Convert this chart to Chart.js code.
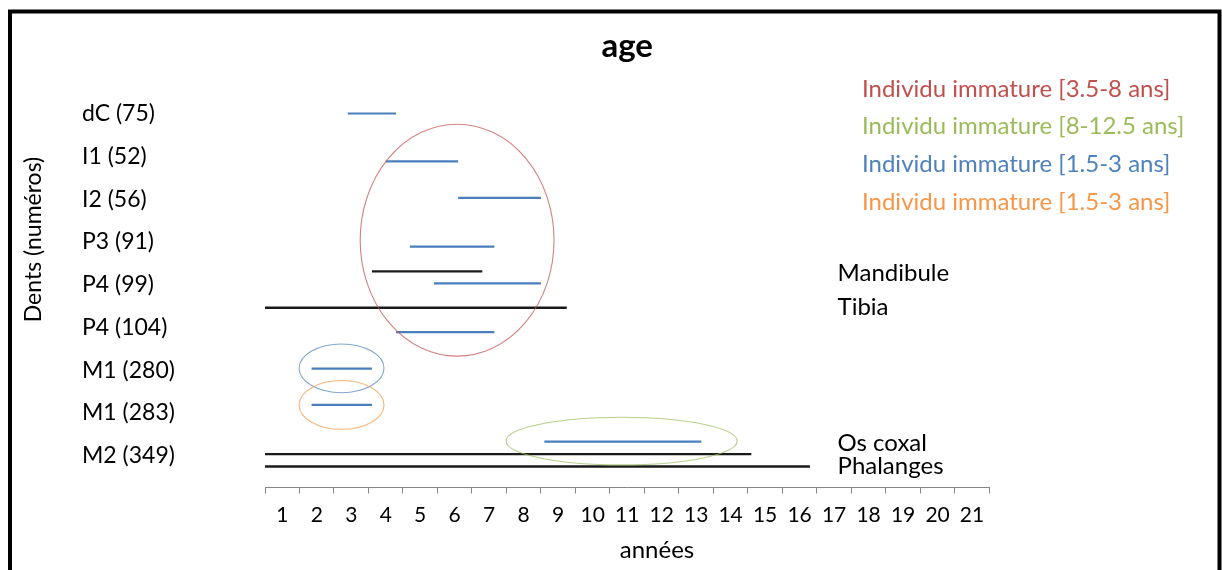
<!DOCTYPE html>
<html>
<head>
<meta charset="utf-8">
<script src="https://cdn.jsdelivr.net/npm/chart.js@4"></script>
<style>
  html, body { margin: 0; padding: 0; background: #ffffff; }
  #wrap { width: 1222px; height: 570px; }
</style>
</head>
<body>
<div id="wrap"><canvas id="c" width="1222" height="570"></canvas></div>
<script>
// ---------------- data ----------------
const categories = ['dC (75)', 'I1 (52)', 'I2 (56)', 'P3 (91)', 'P4 (99)', 'P4 (104)', 'M1 (280)', 'M1 (283)', 'M2 (349)'];
const xTickLabels = ['1','2','3','4','5','6','7','8','9','10','11','12','13','14','15','16','17','18','19','20','21'];

// tooth age ranges (years) and row on the vertical axis (category index)
const toothStart = [2.4, 3.5, 5.6, 4.2, 4.9, 3.8, 1.35, 1.35, 8.1];
const toothEnd   = [3.8, 5.6, 8.0, 6.65, 8.0, 6.65, 3.1, 3.1, 12.65];
const toothRow   = [0, 1.12, 1.97, 3.11, 3.97, 5.11, 5.96, 6.81, 7.67];

// bone age ranges (years)
const boneNames    = ['Mandibule', 'Tibia', 'Os coxal', 'Phalanges'];
const boneStart    = [3.1, 0, 0, 0];
const boneEnd      = [6.3, 8.75, 14.1, 15.8];
const boneRow      = [3.69, 4.54, 7.96, 8.25];
const boneLabelRow = [3.73, 4.52, 7.70, 8.25];

// groups (individuals) : label, colour, ellipse in data units
const groupLabels = ['Individu immature [3.5-8 ans]', 'Individu immature [8-12.5 ans]', 'Individu immature [1.5-3 ans]', 'Individu immature [1.5-3 ans]'];
const groupColors = ['#c0504d', '#9bbb59', '#4f81bd', '#f79646'];
const ellipseCx = [5.57, 10.34, 2.22, 2.22];
const ellipseRx = [2.81, 3.35, 1.23, 1.23];
const ellipseCy = [2.96, 7.655, 5.955, 6.81];
const ellipseRy = [2.71, 0.557, 0.57, 0.57];

const chartTitle = 'age';
const xTitle = 'années';
const yTitle = 'Dents (numéros)';

// ---------------- datasets ----------------
const FONT = 'Lato';
const datasets = [];
toothStart.forEach((s, i) => {
  datasets.push({
    label: categories[i],
    data: [{x: s, y: toothRow[i]}, {x: toothEnd[i], y: toothRow[i]}],
    showLine: true, borderColor: '#4a7ebb', borderWidth: 2.2, pointRadius: 0, fill: false
  });
});
boneStart.forEach((s, i) => {
  datasets.push({
    label: boneNames[i],
    data: [{x: s, y: boneRow[i]}, {x: boneEnd[i], y: boneRow[i]}],
    showLine: true, borderColor: '#1a1a1a', borderWidth: 2.4, pointRadius: 0, fill: false
  });
});

const decorPlugin = {
  id: 'decor',
  afterDatasetsDraw(chart) {
    const ctx = chart.ctx, xs = chart.scales.x, ys = chart.scales.y;
    ctx.save();
    // ellipses
    ellipseCx.forEach((cx, i) => {
      const px = xs.getPixelForValue(cx), py = ys.getPixelForValue(ellipseCy[i]);
      const rx = Math.abs(xs.getPixelForValue(cx + ellipseRx[i]) - px);
      const ry = Math.abs(ys.getPixelForValue(ellipseCy[i] + ellipseRy[i]) - py);
      ctx.beginPath();
      ctx.ellipse(px, py, rx, ry, 0, 0, Math.PI * 2);
      ctx.strokeStyle = groupColors[i];
      ctx.globalAlpha = 0.7;
      ctx.lineWidth = 1.1;
      ctx.stroke();
    });
    ctx.globalAlpha = 1;
    // bone labels
    ctx.fillStyle = '#000';
    ctx.font = '24px ' + FONT;
    ctx.textAlign = 'left';
    ctx.textBaseline = 'middle';
    boneNames.forEach((n, i) => {
      ctx.fillText(n, xs.getPixelForValue(16.6), ys.getPixelForValue(boneLabelRow[i]));
    });
    // group legend texts
    groupLabels.forEach((t, i) => {
      ctx.fillStyle = groupColors[i];
      ctx.fillText(t, 862, 89 + i * 37.6);
    });
    // axis titles
    ctx.fillStyle = '#000';
    ctx.textAlign = 'center';
    ctx.fillText(xTitle, 657, 550);
    ctx.font = '23px ' + FONT;
    ctx.translate(34, 239.5);
    ctx.rotate(-Math.PI / 2);
    ctx.fillText(yTitle, 0, 0);
    ctx.restore();
    // frame
    ctx.save();
    ctx.strokeStyle = '#000';
    ctx.lineWidth = 4;
    ctx.strokeRect(10, 11.5, 1209.5, 700);
    ctx.restore();
  }
};

new Chart(document.getElementById('c'), {
  type: 'scatter',
  data: { datasets },
  options: {
    responsive: false,
    animation: false,
    devicePixelRatio: 1,
    layout: { padding: { left: 82, right: 232.7, top: 12, bottom: 0 } },
    plugins: {
      legend: { display: false },
      tooltip: { enabled: false },
      title: {
        display: true, text: chartTitle, fullSize: false, color: '#000',
        font: { family: FONT, size: 33, weight: 'bold', lineHeight: 1.2 },
        padding: { top: 14.2, bottom: 26.3 }
      }
    },
    scales: {
      x: {
        type: 'linear', position: 'bottom', min: 0, max: 21,
        afterBuildTicks(scale) {
          const t = [];
          for (let v = 0; v <= 42; v++) t.push({ value: v / 2 });
          scale.ticks = t;
        },
        afterFit(scale) { scale.height = 82.5; },
        ticks: {
          autoSkip: false, maxRotation: 0, minRotation: 0, padding: 9, color: '#000',
          font: { family: FONT, size: 21 },
          callback: (v) => Number.isInteger(v) ? '' : xTickLabels[Math.floor(v)]
        },
        grid: {
          display: true, drawOnChartArea: false, drawTicks: true, tickLength: 6, tickWidth: 1,
          tickColor: (c) => (c.tick && Number.isInteger(c.tick.value)) ? '#868686' : 'rgba(0,0,0,0)'
        },
        border: { display: true, color: '#868686', width: 1 }
      },
      y: {
        type: 'linear', reverse: true, min: -0.5, max: 8.74,
        afterBuildTicks(scale) {
          scale.ticks = categories.map((c, i) => ({ value: i }));
        },
        afterFit(scale) { scale.width = 183; },
        ticks: {
          autoSkip: false, crossAlign: 'far', color: '#000',
          font: { family: FONT, size: 23 },
          callback: (v) => categories[v]
        },
        grid: { display: false },
        border: { display: false }
      }
    }
  },
  plugins: [decorPlugin]
});
</script>
</body>
</html>
